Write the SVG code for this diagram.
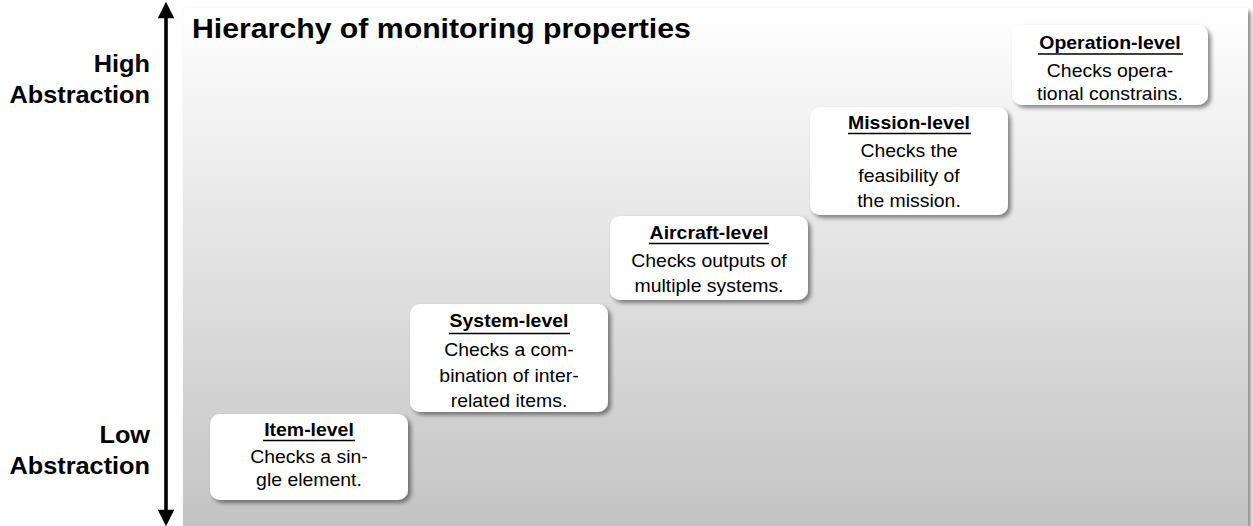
<svg xmlns="http://www.w3.org/2000/svg" width="1253" height="526" viewBox="0 0 1253 526">
<style>
  text { font-family: "Liberation Sans", Arial, sans-serif; fill: #000; }
  .title { font-size: 27px; font-weight: bold; }
  .side { font-size: 23px; font-weight: bold; text-anchor: end; }
  .head { font-size: 18px; font-weight: bold; text-anchor: middle; }
  .body { font-size: 18px; text-anchor: middle; }
  .box { fill: #ffffff; filter: url(#shadow); }
  .ul { stroke: #000; stroke-width: 1.5; }
</style>
<defs>
  <linearGradient id="bg" x1="0" y1="0" x2="0" y2="1">
    <stop offset="0" stop-color="#ffffff"/>
    <stop offset="1" stop-color="#c2c2c2"/>
  </linearGradient>
  <filter id="shadow" x="-10%" y="-10%" width="130%" height="130%">
    <feDropShadow dx="3" dy="3" stdDeviation="2" flood-color="#000" flood-opacity="0.45"/>
  </filter>
  <marker id="ah" viewBox="0 0 10 10" refX="2" refY="5" markerWidth="5" markerHeight="4.6" orient="auto-start-reverse" markerUnits="strokeWidth">
    <path d="M0,0 L10,5 L0,10 z" fill="#000"/>
  </marker>
</defs>

<g id="background">
  <rect x="183" y="8" width="1065" height="530" fill="url(#bg)" filter="url(#shadow)"/>
</g>

<g id="axis">
  <line x1="166" y1="15" x2="166" y2="513" stroke="#000" stroke-width="3.6" marker-start="url(#ah)" marker-end="url(#ah)"/>
</g>

<g id="labels">
  <text class="title" transform="translate(192 38) scale(1.12 1)">Hierarchy of monitoring properties</text>
  <text class="side" transform="translate(150 72) scale(1.1 1)">High</text>
  <text class="side" transform="translate(150 103) scale(1.1 1)">Abstraction</text>
  <text class="side" transform="translate(150 443) scale(1.1 1)">Low</text>
  <text class="side" transform="translate(150 474) scale(1.1 1)">Abstraction</text>
</g>

<g id="item-level">
  <rect class="box" x="210" y="414" width="198" height="86" rx="10"/>
  <text class="head" transform="translate(309 436) scale(1.08 1)">Item-level</text>
  <line class="ul" x1="263" y1="440.5" x2="355" y2="440.5"/>
  <text class="body" transform="translate(309 463) scale(1.08 1)">Checks a sin-</text>
  <text class="body" transform="translate(309 486) scale(1.08 1)">gle element.</text>
</g>

<g id="system-level">
  <rect class="box" x="410" y="304" width="198" height="108" rx="10"/>
  <text class="head" transform="translate(509 327) scale(1.08 1)">System-level</text>
  <line class="ul" x1="449" y1="333.5" x2="570" y2="333.5"/>
  <text class="body" transform="translate(509 356) scale(1.08 1)">Checks a com-</text>
  <text class="body" transform="translate(509 382) scale(1.08 1)">bination of inter-</text>
  <text class="body" transform="translate(509 407) scale(1.08 1)">related items.</text>
</g>

<g id="aircraft-level">
  <rect class="box" x="610" y="216" width="198" height="84" rx="10"/>
  <text class="head" transform="translate(709 239) scale(1.08 1)">Aircraft-level</text>
  <line class="ul" x1="649" y1="243.5" x2="769" y2="243.5"/>
  <text class="body" transform="translate(709 267) scale(1.08 1)">Checks outputs of</text>
  <text class="body" transform="translate(709 292) scale(1.08 1)">multiple systems.</text>
</g>

<g id="mission-level">
  <rect class="box" x="810" y="107" width="198" height="108" rx="10"/>
  <text class="head" transform="translate(909 129) scale(1.08 1)">Mission-level</text>
  <line class="ul" x1="848" y1="133.5" x2="971" y2="133.5"/>
  <text class="body" transform="translate(909 157) scale(1.08 1)">Checks the</text>
  <text class="body" transform="translate(909 182) scale(1.08 1)">feasibility of</text>
  <text class="body" transform="translate(909 207) scale(1.08 1)">the mission.</text>
</g>

<g id="operation-level">
  <rect class="box" x="1012" y="25" width="196" height="80" rx="10"/>
  <text class="head" transform="translate(1110 49) scale(1.08 1)">Operation-level</text>
  <line class="ul" x1="1038" y1="54" x2="1183" y2="54"/>
  <text class="body" transform="translate(1110 77) scale(1.08 1)">Checks opera-</text>
  <text class="body" transform="translate(1110 100) scale(1.08 1)">tional constrains.</text>
</g>
</svg>
